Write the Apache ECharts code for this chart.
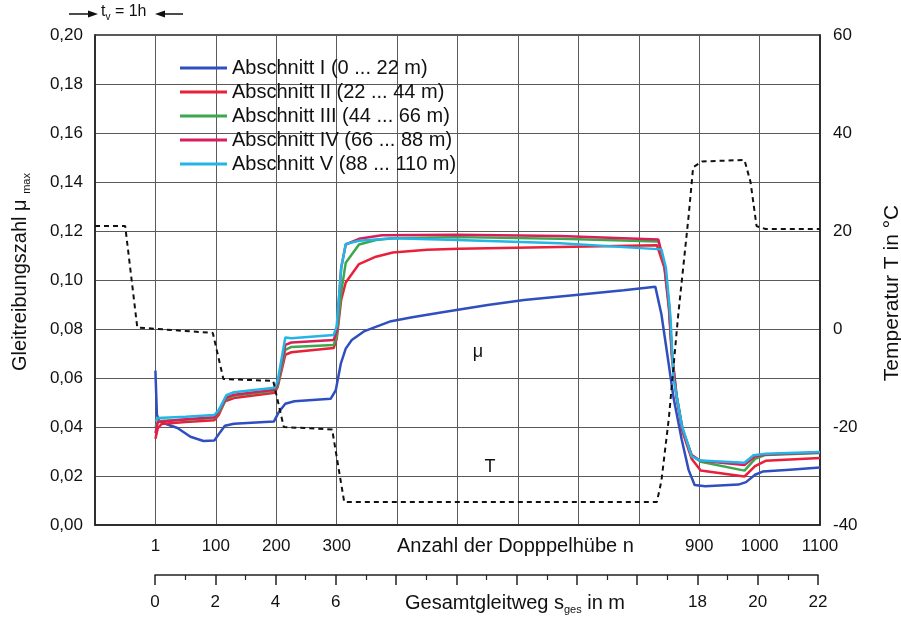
<!DOCTYPE html>
<html>
<head>
<meta charset="utf-8">
<script src="https://cdn.jsdelivr.net/npm/echarts@6/dist/echarts.min.js"></script>
<style>
html,body{margin:0;padding:0;background:#fff;}
#c{width:901px;height:624px;}
</style>
</head>
<body>
<div id="c"></div>
<script>
// x values are in metres of sliding path (Gesamtgleitweg)
const nTickPos = [0, 2, 4, 6, 18, 20, 22];
const nTickLabels = ['1', '100', '200', '300', '900', '1000', '1100'];
const sTickPos = [0, 2, 4, 6, 18, 20, 22];
const sTickLabels = ['0', '2', '4', '6', '18', '20', '22'];
const seriesNames = ['Abschnitt I (0 ... 22 m)', 'Abschnitt II (22 ... 44 m)', 'Abschnitt III (44 ... 66 m)', 'Abschnitt IV (66 ... 88 m)', 'Abschnitt V (88 ... 110 m)'];

const sec1 = [[0,0.063],[0.05,0.045],[0.12,0.0425],[0.4,0.041],[0.73,0.0396],[1.16,0.036],[1.59,0.0343],[1.95,0.0345],[2.15,0.038],[2.3,0.0405],[2.6,0.0413],[3.92,0.0422],[4.08,0.046],[4.3,0.0495],[4.6,0.0505],[5.8,0.0515],[5.97,0.055],[6.14,0.066],[6.3,0.072],[6.5,0.0755],[6.9,0.079],[7.8,0.0832],[8.5,0.0848],[9.5,0.0868],[11,0.0898],[12.2,0.0918],[14,0.094],[15.5,0.0958],[16.55,0.0972],[16.75,0.086],[17.0,0.065],[17.15,0.052],[17.42,0.035],[17.65,0.0225],[17.85,0.0163],[18.2,0.0158],[19.3,0.0165],[19.55,0.0175],[19.85,0.0205],[20.1,0.0218],[21,0.0226],[22,0.0235]];
const sec2 = [[0,0.0352],[0.08,0.0395],[0.2,0.0412],[1.0,0.042],[1.95,0.0428],[2.1,0.045],[2.3,0.0505],[2.6,0.0518],[3.95,0.054],[4.05,0.0565],[4.3,0.0695],[4.5,0.0705],[5.9,0.0722],[6.0,0.076],[6.15,0.092],[6.3,0.099],[6.74,0.1065],[7.3,0.1095],[7.86,0.1112],[9,0.1123],[10.05,0.1128],[13.37,0.1135],[16.6,0.1142],[16.85,0.105],[17.0,0.088],[17.1,0.068],[17.25,0.052],[17.45,0.038],[17.75,0.027],[18.05,0.0222],[19.5,0.0198],[19.85,0.024],[20.2,0.0262],[22,0.0273]];
const sec3 = [[0,0.04],[0.1,0.0425],[1.0,0.043],[1.95,0.0437],[2.1,0.046],[2.35,0.0515],[2.6,0.0528],[3.95,0.0548],[4.05,0.057],[4.3,0.0715],[4.5,0.0727],[5.9,0.0735],[6.0,0.077],[6.15,0.095],[6.3,0.107],[6.74,0.1145],[7.3,0.1163],[7.86,0.117],[10,0.1175],[13.4,0.1168],[16.65,0.1157],[16.85,0.106],[17.0,0.09],[17.1,0.07],[17.25,0.053],[17.45,0.039],[17.75,0.0285],[18.05,0.0258],[19.5,0.0222],[19.85,0.027],[20.2,0.0286],[22,0.0294]];
const sec4 = [[0,0.0375],[0.08,0.042],[1.0,0.0432],[1.95,0.044],[2.1,0.0465],[2.35,0.052],[2.6,0.0532],[3.95,0.0552],[4.05,0.058],[4.3,0.0735],[4.5,0.0745],[5.9,0.0755],[6.0,0.079],[6.15,0.105],[6.3,0.1145],[6.74,0.1168],[7.5,0.1183],[10,0.1185],[13.4,0.118],[16.65,0.1165],[16.85,0.106],[17.0,0.09],[17.1,0.07],[17.25,0.053],[17.45,0.039],[17.75,0.0285],[18.05,0.0262],[19.5,0.0245],[19.85,0.028],[20.2,0.0288],[22,0.0296]];
const sec5 = [[0,0.0425],[0.08,0.0437],[1.0,0.0442],[1.95,0.0449],[2.1,0.047],[2.35,0.053],[2.6,0.0542],[3.95,0.056],[4.05,0.059],[4.3,0.0765],[4.5,0.0762],[5.9,0.0776],[6.0,0.081],[6.15,0.105],[6.3,0.1147],[6.74,0.116],[7.86,0.117],[10,0.1163],[13.4,0.115],[16.75,0.1125],[16.9,0.105],[17.05,0.085],[17.15,0.06],[17.42,0.041],[17.75,0.028],[18.05,0.0263],[19.5,0.0254],[19.8,0.0285],[20.2,0.0291],[22,0.0298]];
const temp = [[-2,21],[-1.0,21],[-0.6,0.3],[1.9,-0.8],[2.25,-10.2],[3.9,-10.6],[4.25,-20],[5.85,-20.5],[6.25,-35.3],[16.6,-35.3],[16.75,-31],[17.0,-18],[17.3,2.5],[17.65,23],[17.8,33],[18.1,34.2],[19.5,34.5],[19.7,30],[19.9,21],[20.2,20.4],[22,20.4]];

const colors = ['#2f4fbf', '#e8203a', '#3ca84e', '#d81e5b', '#22b5e6'];
const FONT = 'Liberation Sans, Arial, sans-serif';

function lbl(pos, labels) {
  return function (v) {
    for (let i = 0; i < pos.length; i++) if (Math.abs(pos[i] - v) < 1e-6) return labels[i];
    return '';
  };
}

const chart = echarts.init(document.getElementById('c'), null, {renderer: 'canvas'});
const secs = [sec1, sec2, sec3, sec4, sec5];
const series = secs.map((d, i) => ({
  name: seriesNames[i], type: 'line', data: d, xAxisIndex: 0, yAxisIndex: 0,
  showSymbol: false, symbol: 'none', lineStyle: {color: colors[i], width: 2.5}, itemStyle: {color: colors[i]}, z: 3 + i
}));
series.push({
  name: 'T', type: 'line', data: temp, xAxisIndex: 0, yAxisIndex: 1, showSymbol: false, symbol: 'none',
  lineStyle: {color: '#111', width: 2, type: [5, 4]}, z: 10
});

chart.setOption({
  animation: false,
  backgroundColor: '#fff',
  textStyle: {fontFamily: FONT},
  grid: [
    {left: 95, right: 81, top: 35, bottom: 99, show: true, borderColor: '#222', borderWidth: 1.5},
    {left: 155, right: 83, top: 565, height: 10}
  ],
  legend: {
    data: seriesNames, orient: 'vertical', left: 175, top: 51, itemGap: 0,
    icon: 'rect', itemWidth: 47, itemHeight: 3,
    textStyle: {fontSize: 20, color: '#111', lineHeight: 24, fontFamily: FONT}
  },
  xAxis: [
    {type: 'value', gridIndex: 0, min: -2, max: 22, interval: 2,
     axisLine: {show: true, onZero: false, lineStyle: {color: '#222', width: 1.5}}, axisTick: {show: false},
     splitLine: {show: true, lineStyle: {color: '#5a5a5a', width: 1}},
     axisLabel: {formatter: lbl(nTickPos, nTickLabels), fontSize: 17, color: '#111', margin: 13, fontFamily: FONT}},
    {type: 'value', gridIndex: 1, min: 0, max: 22, interval: 2, position: 'bottom',
     axisLine: {show: true, onZero: false, lineStyle: {color: '#222', width: 1.5}},
     axisTick: {show: true, inside: false, length: 10, lineStyle: {color: '#222', width: 1.5}},
     minorTick: {show: true, splitNumber: 2, length: 5, lineStyle: {color: '#222', width: 1.2}},
     splitLine: {show: false},
     axisLabel: {formatter: lbl(sTickPos, sTickLabels), fontSize: 17, color: '#111', margin: 19, fontFamily: FONT}}
  ],
  yAxis: [
    {type: 'value', gridIndex: 0, min: 0, max: 0.2, interval: 0.02, position: 'left',
     axisLine: {show: true, onZero: false, lineStyle: {color: '#222', width: 1.5}}, axisTick: {show: false},
     splitLine: {show: true, lineStyle: {color: '#5a5a5a', width: 1}},
     axisLabel: {formatter: v => v.toFixed(2).replace('.', ','), fontSize: 17, color: '#111', margin: 12, fontFamily: FONT}},
    {type: 'value', gridIndex: 0, min: -40, max: 60, interval: 20, position: 'right',
     axisLine: {show: true, onZero: false, lineStyle: {color: '#222', width: 1.5}}, axisTick: {show: false},
     splitLine: {show: false},
     axisLabel: {fontSize: 17, color: '#111', margin: 13, fontFamily: FONT}},
    {type: 'value', gridIndex: 1, show: false, min: 0, max: 1}
  ],
  series: series,
  graphic: [
    {type: 'text', left: 397, top: 536, style: {text: 'Anzahl der Dopppelhübe n', fontSize: 20, fill: '#111', fontFamily: FONT}},
    {type: 'text', left: 405, top: 593, style: {text: 'Gesamtgleitweg s{sub|ges} in m', fontSize: 20, fill: '#111', fontFamily: FONT,
      rich: {sub: {fontSize: 11, padding: [13, 0, 0, 0], fontFamily: FONT, fill: '#111'}}}},
    {type: 'text', x: 20, y: 272, rotation: Math.PI / 2,
     style: {text: 'Gleitreibungszahl μ {sub|max}', fontSize: 20, fill: '#111', fontFamily: FONT, align: 'center', verticalAlign: 'middle',
      rich: {sub: {fontSize: 11, padding: [13, 0, 0, 0], fontFamily: FONT, fill: '#111'}}}},
    {type: 'text', x: 892, y: 293, rotation: Math.PI / 2,
     style: {text: 'Temperatur T in °C', fontSize: 21, fill: '#111', fontFamily: FONT, align: 'center', verticalAlign: 'middle'}},
    {type: 'text', x: 478, y: 352, style: {text: 'μ', fontSize: 18, fill: '#111', fontFamily: FONT, align: 'center', verticalAlign: 'middle'}},
    {type: 'text', x: 490, y: 467, style: {text: 'T', fontSize: 18, fill: '#111', fontFamily: FONT, align: 'center', verticalAlign: 'middle'}},
    {type: 'line', shape: {x1: 69, y1: 14, x2: 90, y2: 14}, style: {stroke: '#111', lineWidth: 1.5}},
    {type: 'polygon', shape: {points: [[98, 14], [88, 10.5], [88, 17.5]]}, style: {fill: '#111'}},
    {type: 'text', left: 101, top: 4, style: {text: 't{sub|v} = 1h', fontSize: 16, fill: '#111', fontFamily: FONT,
      rich: {sub: {fontSize: 10, padding: [10, 0, 0, 0], fontFamily: FONT, fill: '#111'}}}},
    {type: 'polygon', shape: {points: [[155, 14], [165, 10.5], [165, 17.5]]}, style: {fill: '#111'}},
    {type: 'line', shape: {x1: 163, y1: 14, x2: 183, y2: 14}, style: {stroke: '#111', lineWidth: 1.5}}
  ]
});
</script>
</body>
</html>
